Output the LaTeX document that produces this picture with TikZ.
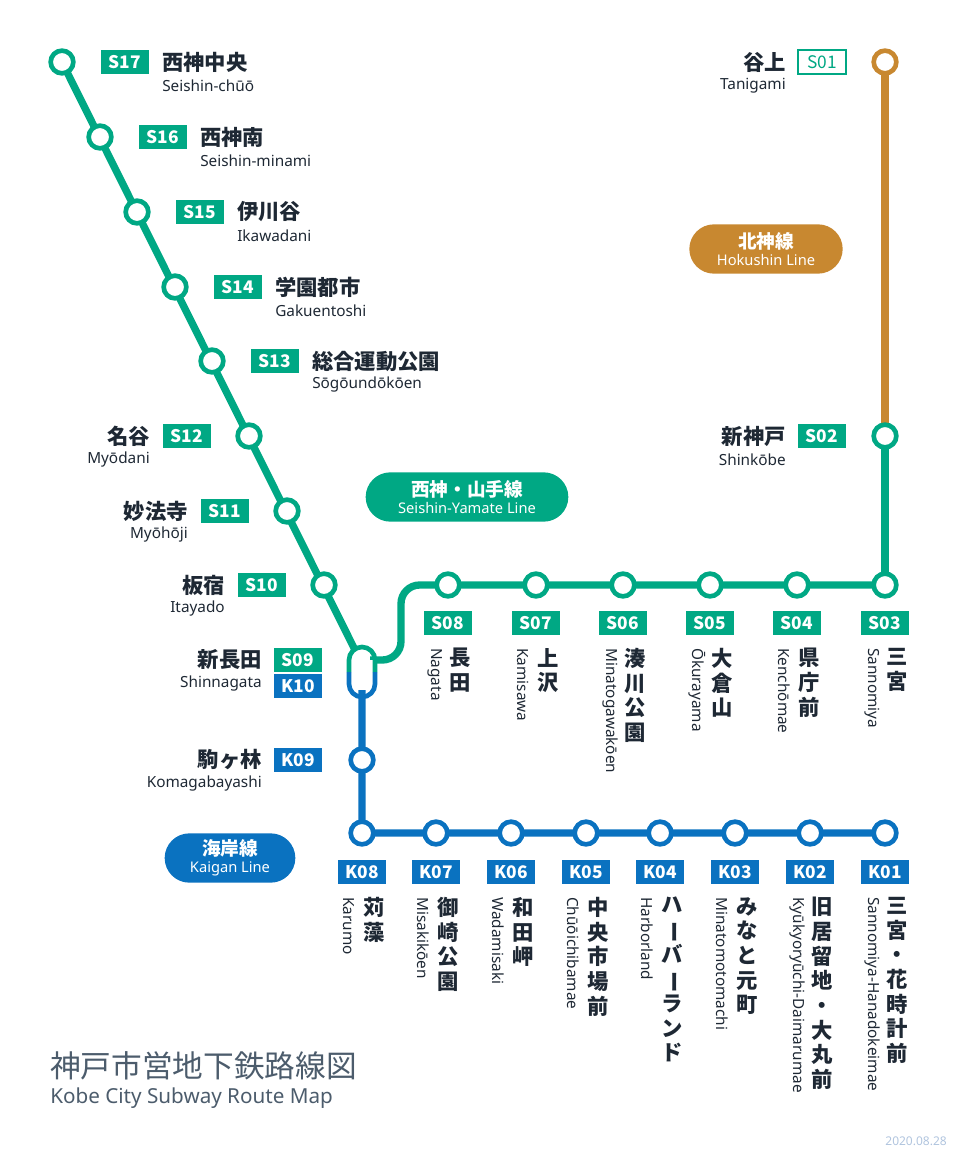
\documentclass[tikz,border=0pt]{standalone}
\usepackage{fontspec}
\setmainfont{Noto Sans}
\newfontfamily\jp{Noto Sans CJK JP}
\usetikzlibrary{shapes.misc}
\definecolor{seishin}{RGB}{0,168,132}
\definecolor{hokushin}{RGB}{200,136,48}
\definecolor{kaigan}{RGB}{10,114,192}
\definecolor{ink}{RGB}{30,40,52}
\definecolor{titleink}{RGB}{76,92,108}
\definecolor{dateink}{RGB}{176,196,222}
\newcommand\cho{\rotatebox[origin=c]{-90}{ー}}

\begin{document}
\begin{tikzpicture}[x=0.75pt,y=-0.75pt,
    line/.style={line width=5.5pt},
    stn/.style={circle,draw=#1,fill=white,line width=3.5pt,minimum size=17pt,inner sep=0pt},
    code/.style={fill=#1,text=white,font=\jp\bfseries\fontsize{13}{13}\selectfont,minimum width=36pt,minimum height=18pt,inner sep=0pt},
    jaH/.style={text=ink,font=\jp\bfseries\fontsize{16}{16}\selectfont,inner sep=0pt},
    jaV/.style={text=ink,font=\jp\bfseries\fontsize{16}{18.5}\selectfont,inner sep=0pt,align=center,anchor=north},
    roman/.style={text=ink,font=\fontsize{11.5}{11.5}\selectfont,inner sep=0pt},
    romanV/.style={roman,rotate=-90,anchor=west},
    badge/.style={rounded rectangle,fill=#1,text=white,minimum height=37pt,inner sep=3pt,align=center},
    ]
    \useasboundingbox (0,0) rectangle (960,1159);

    % lines
    \draw[line,hokushin] (885,62) -- (885,436);
    \draw[line,seishin] (885,436) -- (885,585);
    \draw[line,seishin] (62,62) -- (355,650);
    \draw[line,seishin,rounded corners=14pt] (370,660) -- (401,660) -- (401,585) -- (885,585);
    \draw[line,kaigan,rounded corners=3pt] (362,690) -- (362,833) -- (885,833);

    % transfer capsule at Shinnagata
    \fill[white] (349,660) rectangle (375,684);
    \draw[seishin,line width=3.5pt] (349,672) -- (349,660) arc(180:360:13) -- (375,672);
    \draw[kaigan,line width=3.5pt] (349,672) -- (349,684) arc(180:0:13) -- (375,672);
    \coordinate (S09) at (362,672);

    % Seishin, left column (labels on the right)
    \foreach \x/\y/\id/\ja/\ro in {62/62/S17/西神中央/Seishin-chūō,
        100/137/S16/西神南/Seishin-minami, 137/212/S15/伊川谷/Ikawadani,
        175/287/S14/学園都市/Gakuentoshi, 212/361/S13/総合運動公園/Sōgōundōkōen}{
        \node[stn=seishin] (\id) at (\x,\y) {};
        \node[code=seishin] (\id c) at (\x+63,\y) {\id};
        \node[jaH,anchor=west] (\id j) at (\x+100,\y) {\ja};
        \node[roman,anchor=west] (\id r) at (\x+100,\y+24) {\ro};
    }
    % Seishin, left column (labels on the left)
    \foreach \x/\y/\id/\ja/\ro in {249/436/S12/名谷/Myōdani,
        287/511/S11/妙法寺/Myōhōji, 324/585/S10/板宿/Itayado}{
        \node[stn=seishin] (\id) at (\x,\y) {};
        \node[code=seishin] (\id c) at (\x-62,\y) {\id};
        \node[jaH,anchor=east] (\id j) at (\x-99,\y) {\ja};
        \node[roman,anchor=east] (\id r) at (\x-99,\y+24) {\ro};
    }
    \node[code=seishin] (S09c) at (298,660) {S09};
    \node[code=kaigan] (K10c) at (298,686) {K10};
    \node[jaH,anchor=east] (S09j) at (262,660) {新長田};
    \node[roman,anchor=east] (S09r) at (262,684) {Shinnagata};

    % Seishin, bottom row
    \foreach \x/\id/\ja/\ro in {448/S08/{長\\田}/Nagata, 536/S07/{上\\沢}/Kamisawa,
        623/S06/{湊\\川\\公\\園}/Minatogawakōen, 710/S05/{大\\倉\\山}/Ōkurayama,
        797/S04/{県\\庁\\前}/Kenchōmae, 885/S03/{三\\宮}/Sannomiya}{
        \node[stn=seishin] (\id) at (\x,585) {};
        \node[code=seishin] (\id c) at (\x,623) {\id};
        \node[jaV] (\id j) at (\x+12,648) {\ja};
        \node[romanV] (\id r) at (\x-13,648) {\ro};
    }
    \node[stn=seishin] (S02) at (885,436) {};
    \node[code=seishin] (S02c) at (822,436) {S02};
    \node[jaH,anchor=east] (S02j) at (786,436) {新神戸};
    \node[roman,anchor=east] (S02r) at (786,460) {Shinkōbe};

    % Hokushin
    \node[stn=hokushin] (S01) at (885,62) {};
    \node[code=white,text=seishin,draw=seishin,line width=0.8pt] (S01c) at (822,62) {\mdseries S01};
    \node[jaH,anchor=east] (S01j) at (786,62) {谷上};
    \node[roman,anchor=east] (S01r) at (786,86) {Tanigami};

    % Kaigan
    \node[stn=kaigan] (K09) at (362,760) {};
    \node[code=kaigan] (K09c) at (298,760) {K09};
    \node[jaH,anchor=east] (K09j) at (262,760) {駒ヶ林};
    \node[roman,anchor=east] (K09r) at (262,784) {Komagabayashi};
    \foreach \x/\id/\ja/\ro in {362/K08/{苅\\藻}/Karumo, 436/K07/{御\\崎\\公\\園}/Misakikōen,
        511/K06/{和\\田\\岬}/Wadamisaki, 586/K05/{中\\央\\市\\場\\前}/Chūōichibamae,
        660/K04/{ハ\\\cho\\バ\\\cho\\ラ\\ン\\ド}/Harborland,
        735/K03/{み\\な\\と\\元\\町}/Minatomotomachi,
        810/K02/{旧\\居\\留\\地\\・\\大\\丸\\前}/Kyūkyoryūchi-Daimarumae,
        885/K01/{三\\宮\\・\\花\\時\\計\\前}/Sannomiya-Hanadokeimae}{
        \node[stn=kaigan] (\id) at (\x,833) {};
        \node[code=kaigan] (\id c) at (\x,872) {\id};
        \node[jaV] (\id j) at (\x+12,897) {\ja};
        \node[romanV] (\id r) at (\x-13,897) {\ro};
    }

    % line badges
    \node[badge=hokushin,minimum width=121pt] (hokushin) at (766,249)
        {{\jp\bfseries\fontsize{14}{15}\selectfont 北神線}\\[1pt]{\fontsize{11}{12}\selectfont Hokushin Line}};
    \node[badge=seishin,minimum width=158pt] (seishin) at (467,497)
        {{\jp\bfseries\fontsize{14}{15}\selectfont 西神・山手線}\\[1pt]{\fontsize{11}{12}\selectfont Seishin-Yamate Line}};
    \node[badge=kaigan,minimum width=104pt] (kaigan) at (230,858)
        {{\jp\bfseries\fontsize{14}{15}\selectfont 海岸線}\\[1pt]{\fontsize{11}{12}\selectfont Kaigan Line}};

    % title
    \node[anchor=west,inner sep=0pt,text=titleink,font=\jp\fontsize{23}{23}\selectfont] (title) at (50,1066) {神戸市営地下鉄路線図};
    \node[anchor=west,inner sep=0pt,text=titleink,font=\fontsize{15.5}{15.5}\selectfont] (subtitle) at (50,1098) {Kobe City Subway Route Map};
    \node[anchor=east,inner sep=0pt,text=dateink,font=\fontsize{9}{9}\selectfont] (date) at (947,1141) {2020.08.28};
\end{tikzpicture}
\end{document}
